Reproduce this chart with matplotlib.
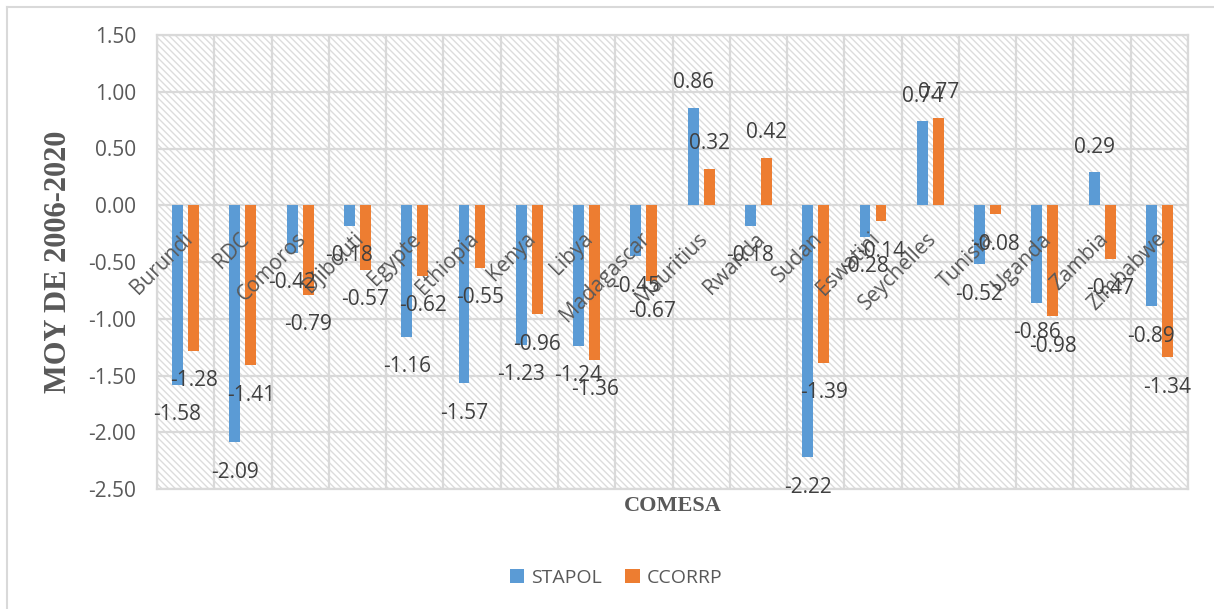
import matplotlib
matplotlib.use("Agg")
import matplotlib.pyplot as plt
from matplotlib.patches import Rectangle, Patch
from matplotlib.lines import Line2D
import numpy as np

# Country averages over 2006-2020
countries = ["Burundi", "RDC", "Comoros", "Djibouti", "Egypte", "Ethiopia", "Kenya",
             "Libya", "Madagascar", "Mauritius", "Rwanda", "Sudan", "Eswatini",
             "Seychelles", "Tunisia", "Uganda", "Zambia", "Zimbabwe"]
stapol = [-1.58, -2.09, -0.42, -0.18, -1.16, -1.57, -1.23, -1.24, -0.45, 0.86,
          -0.18, -2.22, -0.28, 0.74, -0.52, -0.86, 0.29, -0.89]
ccorrp = [-1.28, -1.41, -0.79, -0.57, -0.62, -0.55, -0.96, -1.36, -0.67, 0.32,
          0.42, -1.39, -0.14, 0.77, -0.08, -0.98, -0.47, -1.34]
series_names = ["STAPOL", "CCORRP"]
y_ticks = [1.5, 1.0, 0.5, 0.0, -0.5, -1.0, -1.5, -2.0, -2.5]

BLUE = "#5b9bd5"
ORANGE = "#ed7d31"
GRID = "#d9d9d9"
TXT = "#595959"
LBL = "#404040"
SANS = "Open Sans"

plt.rcParams["hatch.linewidth"] = 1.0

fig = plt.figure(figsize=(12.14, 6.09), dpi=100)
ax = fig.add_axes([157 / 1214, 1 - 489 / 609, (1188 - 157) / 1214, (489 - 35) / 609])

# fine diagonal hatch behind the plot
ax.patch.set_visible(False)
ax.add_patch(Rectangle((0, 0), 1, 1, transform=ax.transAxes, facecolor="white",
                       edgecolor="#dcdcdc", hatch="\\" * 5, lw=0, zorder=0))

x = np.arange(len(countries))
off, w = 0.14, 0.19
ax.bar(x - off, stapol, width=w, color=BLUE, zorder=3)
ax.bar(x + off, ccorrp, width=w, color=ORANGE, zorder=3)

ax.set_xlim(-0.5, len(countries) - 0.5)
ax.set_ylim(-2.5, 1.5)
ax.set_yticks(y_ticks)
ax.set_yticklabels([f"{v:.2f}" for v in y_ticks], fontsize=15, color=TXT, family=SANS)
ax.tick_params(axis="y", length=0, pad=15)
ax.set_xticks([])
ax.set_xticks(np.arange(len(countries) + 1) - 0.5, minor=True)
ax.tick_params(axis="x", which="both", length=0, labelbottom=False)
ax.grid(True, axis="y", which="major", color=GRID, lw=1.6, zorder=1)
ax.grid(True, axis="x", which="minor", color=GRID, lw=1.6, zorder=1)
ax.set_axisbelow(True)
for s in ax.spines.values():
    s.set_color(GRID)
    s.set_linewidth(1.6)

# category names next to the zero line
for i, name in enumerate(countries):
    ax.annotate(name, xy=(i, 0), xytext=(2.5, -22), textcoords="offset points",
                rotation=45, rotation_mode="anchor", ha="right", va="center",
                fontsize=15, color=TXT, family=SANS, zorder=5)

# value labels beyond each bar end
for vals, dx in ((stapol, -off), (ccorrp, off)):
    for i, v in enumerate(vals):
        dy = 18 if v >= 0 else -21.5
        ax.annotate(f"{v:.2f}", xy=(i + dx, v), xytext=(0, dy),
                    textcoords="offset points", ha="center", va="center",
                    fontsize=15, color=LBL, family=SANS, zorder=6)

ax.set_ylabel("MOY DE 2006-2020", fontsize=22, fontweight="bold",
              family="Liberation Serif", color=TXT)
ax.yaxis.set_label_coords(-(157 - 73) / 1031, 0.5)
ax.set_xlabel("COMESA", fontsize=16, fontweight="bold",
              family="Liberation Serif", color=TXT)
ax.xaxis.set_label_coords(0.5, -(496 - 489) / 454)

handles = [Patch(facecolor=BLUE), Patch(facecolor=ORANGE)]
fig.legend(handles, series_names, loc="center", bbox_to_anchor=(616 / 1214, 1 - 578 / 609),
           ncol=2, frameon=False, handlelength=0.75, handleheight=0.75,
           handletextpad=0.35, columnspacing=1.2,
           prop={"family": SANS, "size": 14}, labelcolor=TXT)

# chart frame
fig.add_artist(Line2D([7 / 1214, 7 / 1214], [0, 1 - 7 / 609], transform=fig.transFigure,
                      color=GRID, lw=1.5))
fig.add_artist(Line2D([7 / 1214, 1], [1 - 7 / 609, 1 - 7 / 609], transform=fig.transFigure,
                      color=GRID, lw=1.5))

fig.savefig("out.png", dpi=100, facecolor="white")
